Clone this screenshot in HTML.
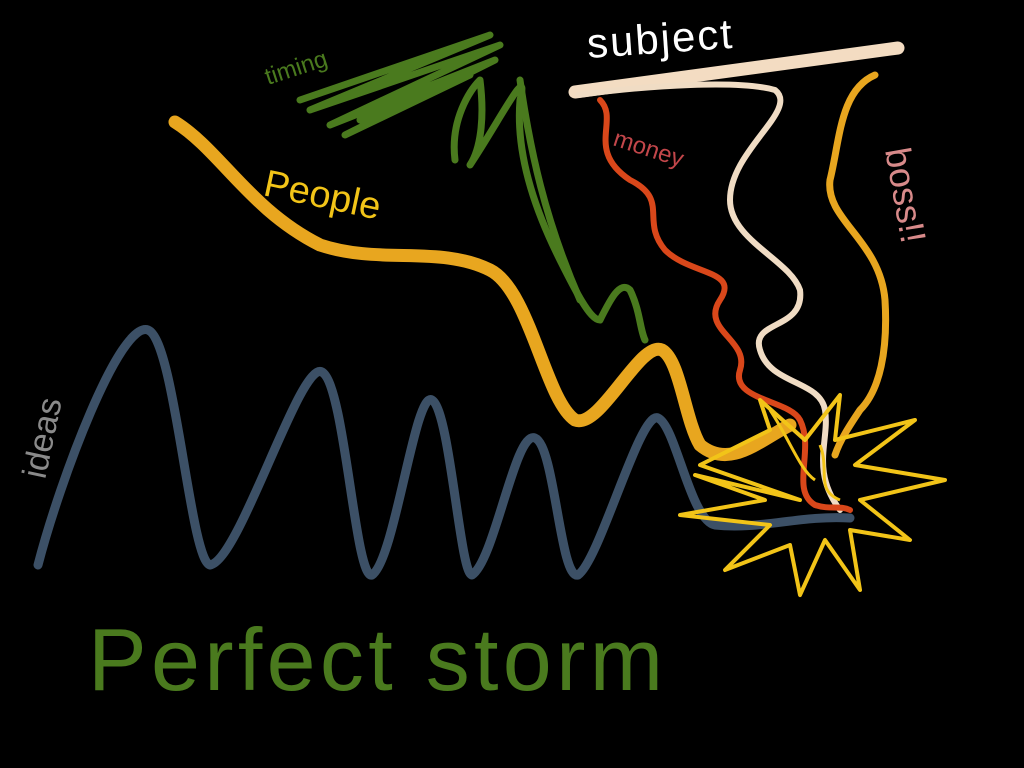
<!DOCTYPE html>
<html><head><meta charset="utf-8"><style>
html,body{margin:0;padding:0;background:#000;width:1024px;height:768px;overflow:hidden}
svg{display:block}
text{font-family:"Liberation Sans",sans-serif}
</style></head><body>
<svg width="1024" height="768" viewBox="0 0 1024 768" xmlns="http://www.w3.org/2000/svg">
<rect width="1024" height="768" fill="#000"/>
<!-- green scribble -->
<g fill="none" stroke="#4a7a1e" stroke-width="7" stroke-linecap="round" stroke-linejoin="round">
<path d="M300,100 L490,35 L310,110 L500,45 L330,125 L495,60 L345,135 L470,75 L360,120"/>
<path d="M455,160 C450,120 470,90 480,80 C485,120 480,150 470,165 C500,120 530,60 520,100 C515,160 540,220 560,260 C575,290 590,320 600,320 C610,300 620,280 630,290 C640,310 640,330 645,340"/>
<path d="M520,80 C530,150 545,220 580,300"/>
</g>
<!-- blue wave -->
<path d="M38,565 C60,480 120,320 148,330 C175,340 190,560 210,565 C240,560 300,360 322,372 C345,385 355,580 372,575 C395,560 415,390 432,400 C450,410 460,575 472,575 C495,560 515,430 535,438 C555,446 560,580 578,575 C600,560 640,410 658,418 C676,426 690,520 715,525 C760,530 800,515 850,518" fill="none" stroke="#3c5066" stroke-width="9" stroke-linecap="round" stroke-linejoin="round"/>
<!-- orange thick line -->
<path d="M175,122 C220,150 250,210 320,245 C380,265 440,245 490,270 C530,290 545,400 575,420 C600,430 640,340 662,350 C680,360 685,420 700,445 C730,470 760,440 790,425" fill="none" stroke="#e8a61f" stroke-width="13" stroke-linecap="round" stroke-linejoin="round"/>
<!-- cream -->
<path d="M575,92 L898,48" fill="none" stroke="#f3dcc2" stroke-width="13" stroke-linecap="round"/>
<path d="M578,95 C650,85 740,80 775,90 C800,110 730,150 730,200 C730,240 790,260 800,290 C805,330 750,320 760,350 C770,385 820,380 825,410 C830,440 810,470 840,510" fill="none" stroke="#f0dcc4" stroke-width="6" stroke-linecap="round" stroke-linejoin="round"/>
<!-- red orange -->
<path d="M600,100 C620,120 585,150 630,180 C670,200 640,220 665,250 C690,275 740,270 720,300 C700,330 750,340 740,370 C730,400 790,400 800,420 C815,450 790,490 815,505 C830,510 840,505 850,510" fill="none" stroke="#d9471a" stroke-width="6" stroke-linecap="round" stroke-linejoin="round"/>
<!-- yellow right -->
<path d="M875,75 C840,90 840,140 830,180 C825,220 880,240 885,300 C888,350 880,390 860,410 C850,425 840,440 835,455" fill="none" stroke="#e8a61f" stroke-width="7" stroke-linecap="round" stroke-linejoin="round"/>
<!-- star -->
<path d="M800,500 L700,465 L770,430 L760,400 L805,440 L840,395 L835,440 L915,420 L855,465 L945,480 L860,500 L910,540 L850,530 L860,590 L825,540 L800,595 L790,545 L725,570 L770,525 L680,515 L765,500 L695,475 Z" fill="none" stroke="#f2c418" stroke-width="4" stroke-linejoin="round"/>
<path d="M770,410 C790,440 800,470 815,480 M820,445 C830,470 815,490 840,500" fill="none" stroke="#f2c418" stroke-width="3"/>
<!-- texts -->
<text x="588" y="58" fill="#fff" font-size="42" transform="rotate(-4 588 58)" letter-spacing="2">subject</text>
<text x="268" y="85" fill="#4a7a1e" font-size="24" transform="rotate(-18 268 85)">timing</text>
<text x="262" y="195" fill="#f2c418" font-size="38" transform="rotate(12 262 195)">People</text>
<text x="612" y="145" fill="#c2464a" font-size="24" transform="rotate(18 612 145)">money</text>
<text x="885" y="150" fill="#d88a8a" font-size="36" transform="rotate(80 885 150)">boss!!</text>
<text x="45" y="480" fill="#8a8a8a" font-size="34" transform="rotate(-78 45 480)">ideas</text>
<text x="88" y="690" fill="#4a7a1e" font-size="88" textLength="575" lengthAdjust="spacing">Perfect storm</text>
</svg>
</body></html>
